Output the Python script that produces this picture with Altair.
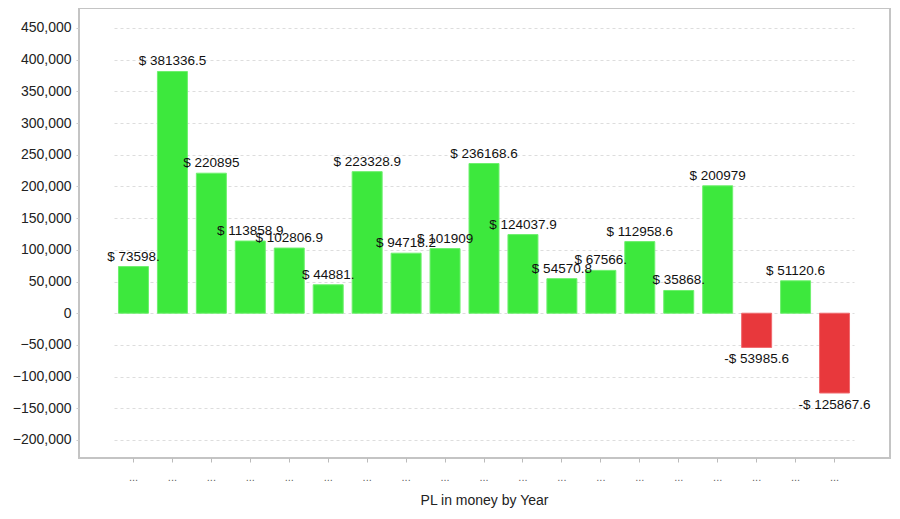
import altair as alt
import pandas as pd

periods = [f"P{i:02d}" for i in range(1, 20)]
values = [73598.4, 381336.5, 220895, 113858.9, 102806.9, 44881.4, 223328.9,
          94718.2, 101909, 236168.6, 124037.9, 54570.8, 67566.4, 112958.6,
          35868.4, 200979, -53985.6, 51120.6, -125867.6]
labels = ["$ 73598.", "$ 381336.5", "$ 220895", "$ 113858.9", "$ 102806.9",
          "$ 44881.", "$ 223328.9", "$ 94718.2", "$ 101909", "$ 236168.6",
          "$ 124037.9", "$ 54570.8", "$ 67566.", "$ 112958.6", "$ 35868.",
          "$ 200979", "-$ 53985.6", "$ 51120.6", "-$ 125867.6"]
y_ticks = [-200000, -150000, -100000, -50000, 0, 50000, 100000, 150000,
           200000, 250000, 300000, 350000, 400000, 450000]

df = pd.DataFrame({"period": periods, "value": values, "label": labels})

FONT = "Liberation Sans"

xscale = alt.Scale(range=[35, 775], paddingInner=0.23, paddingOuter=0.115)

x = alt.X("period:N", sort=periods, scale=xscale,
          axis=alt.Axis(title="PL in money by Year", labelExpr="'...'",
                        labelAngle=0, labelColor="#666666", labelFontSize=11,
                        labelPadding=9, tickColor="#bbbbbb", tickSize=4,
                        domain=False, titleFontSize=14, titleFontWeight="normal",
                        titleColor="#222222", titlePadding=11, titleFont=FONT,
                        labelFont=FONT))
y = alt.Y("value:Q",
          scale=alt.Scale(domain=[-228400, 481500], nice=False, zero=False),
          axis=alt.Axis(title=None, values=y_ticks, format=",d",
                        labelFontSize=14, labelColor="#222222", labelFont=FONT,
                        labelPadding=5, tickSize=3, tickColor="#cccccc",
                        labelOverlap=False, labelFlush=False,
                        domain=False, grid=True, gridColor="#dddddd",
                        gridDash=[3, 3], gridWidth=1))

bars = alt.Chart(df).mark_bar(strokeWidth=1).encode(
    x=x, y=y,
    color=alt.condition("datum.value >= 0", alt.value("#3de83d"), alt.value("#e8383c")),
    stroke=alt.condition("datum.value >= 0", alt.value("#6ef06e"), alt.value("#f06a6e")),
)

pos_text = alt.Chart(df).transform_filter("datum.value >= 0").mark_text(
    baseline="bottom", dy=-3, fontSize=13.5, font=FONT, color="#111111"
).encode(x=x, y=y, text="label:N")

neg_text = alt.Chart(df).transform_filter("datum.value < 0").mark_text(
    baseline="top", dy=5, fontSize=13.5, font=FONT, color="#111111"
).encode(x=x, y=y, text="label:N")

chart = alt.layer(bars, pos_text, neg_text).properties(
    width=811, height=450,
    autosize=alt.AutoSizeParams(type="none"),
    padding={"left": 71, "top": 0, "right": 2, "bottom": 53},
    background="white",
).configure_view(stroke="#c4c4c4", strokeWidth=2)

chart.save("out.html", embed_options={"renderer": "svg", "actions": False})
